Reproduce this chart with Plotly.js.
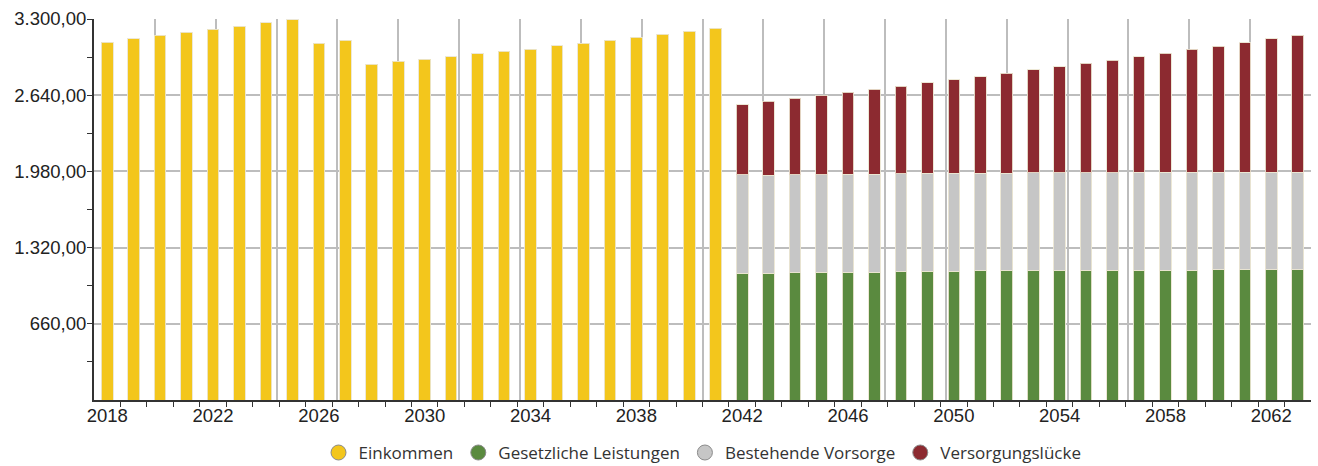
<!DOCTYPE html>
<html>
<head>
<meta charset="utf-8">
<script src="https://cdn.plot.ly/plotly-3.0.1.min.js"></script>
<style>
  html, body { margin: 0; padding: 0; background: #fff; }
  #chart { width: 1318px; height: 466px; }
</style>
</head>
<body>
<div id="chart"></div>
<script>
// --- Data ---
const workYears = [2018,2019,2020,2021,2022,2023,2024,2025,2026,2027,2028,2029,2030,2031,2032,2033,2034,2035,2036,2037,2038,2039,2040,2041];
const einkommen = [3100,3129,3158,3187,3213,3239,3268,3294,3092,3118,2910,2936,2953,2973,2999,3019,3040,3068,3092,3118,3144,3170,3196,3222];

const retireYears = [2042,2043,2044,2045,2046,2047,2048,2049,2050,2051,2052,2053,2054,2055,2056,2057,2058,2059,2060,2061,2062,2063];
const gesetzlich = [1098,1098,1103,1107,1107,1107,1112,1115,1115,1118,1118,1120,1121,1122,1123,1124,1125,1126,1127,1128,1129,1130];
const bestehend  = [852,849,847,846,849,849,847,847,847,847,847,847,847,847,847,847,846,846,845,845,844,844];
const luecke     = [607,639,662,685,711,737,760,786,812,835,867,893,918,946,974,1002,1034,1065,1094,1121,1154,1187];

const seriesNames = ['Einkommen','Gesetzliche Leistungen','Bestehende Vorsorge','Versorgungslücke'];
const seriesColors = ['#F3C61C','#5A8A3F','#C6C6C6','#8C2A30'];

const xTickLabels = [2018,2022,2026,2030,2034,2038,2042,2046,2050,2054,2058,2062];
const yTickVals = [660,1320,1980,2640,3300];
const yMinorVals = [330,990,1650,2310,2970];

const allYears = workYears.concat(retireYears);
const boundaries = allYears.slice(0, -1).map(y => y + 0.5);

const axisFont = {family:'Liberation Sans, Arial, sans-serif', size:18.5, color:'#222'};
const edge = 'rgba(235,230,210,0.9)';
const traces = [
  {type:'bar', x: workYears, y: einkommen, name: seriesNames[0], showlegend:false,
   marker:{color: seriesColors[0], line:{color: edge, width:1}}},
  {type:'bar', x: retireYears, y: gesetzlich, name: seriesNames[1], showlegend:false,
   marker:{color: seriesColors[1], line:{color: edge, width:1}}},
  {type:'bar', x: retireYears, y: bestehend, name: seriesNames[2], showlegend:false,
   marker:{color: seriesColors[2], line:{color: edge, width:1}}},
  {type:'bar', x: retireYears, y: luecke, name: seriesNames[3], showlegend:false,
   marker:{color: seriesColors[3], line:{color: edge, width:1}}},
  // invisible trace to hold the vertical grid axis
  {type:'scatter', x:[0,20], y:[0,0], xaxis:'x2', mode:'markers', marker:{opacity:0}, hoverinfo:'skip', showlegend:false}
];
// legend entries with round symbols
seriesNames.forEach((n, i) => {
  traces.push({type:'scatter', x:[null], y:[null], name:n, mode:'markers',
    marker:{symbol:'circle', size:15, color: seriesColors[i], line:{color:'#8a8a8a', width:1}}});
});

const layout = {
  width: 1318, height: 466,
  margin: {l:94, r:7, t:19, b:66, autoexpand:false},
  paper_bgcolor:'#fff', plot_bgcolor:'#fff',
  separators: ',.',
  barmode:'stack', bargap: 0.56,
  font: axisFont,
  xaxis: {
    range:[2017.5, 2063.5], tickmode:'array', tickvals: xTickLabels, ticks:'',
    showgrid:false, zeroline:false, showline:true, linecolor:'#333', linewidth:2,
    tickfont: axisFont, ticklabelstandoff: -2,
    minor:{tickmode:'array', tickvals: boundaries, ticks:'outside', ticklen:5, tickwidth:1, tickcolor:'#333', showgrid:false}
  },
  xaxis2: {
    overlaying:'x', range:[0,20], tickmode:'linear', tick0:0, dtick:1,
    showgrid:true, gridcolor:'#bdbdbd', gridwidth:2, showticklabels:false, ticks:'',
    zeroline:false, showline:false
  },
  yaxis: {
    range:[0,3300], tickmode:'array', tickvals: yTickVals, tickformat:',.2f',
    ticks:'outside', ticklen:5, tickwidth:1, tickcolor:'#333',
    showgrid:true, gridcolor:'#bdbdbd', gridwidth:2, zeroline:false,
    showline:true, linecolor:'#333', linewidth:2,
    tickfont: axisFont, ticklabelstandoff: -3,
    minor:{tickmode:'array', tickvals: yMinorVals, ticks:'outside', ticklen:5, tickwidth:1, tickcolor:'#333', showgrid:false}
  },
  showlegend:true,
  legend: {
    orientation:'h', x:0.5, xanchor:'center', y:-0.139, yanchor:'middle',
    traceorder:'normal',
    font:{family:'Open Sans, Noto Sans, sans-serif', size:17, color:'#333'},
    itemclick:false, itemdoubleclick:false
  }
};

Plotly.newPlot('chart', traces, layout, {displayModeBar:false, staticPlot:true});
</script>
</body>
</html>
